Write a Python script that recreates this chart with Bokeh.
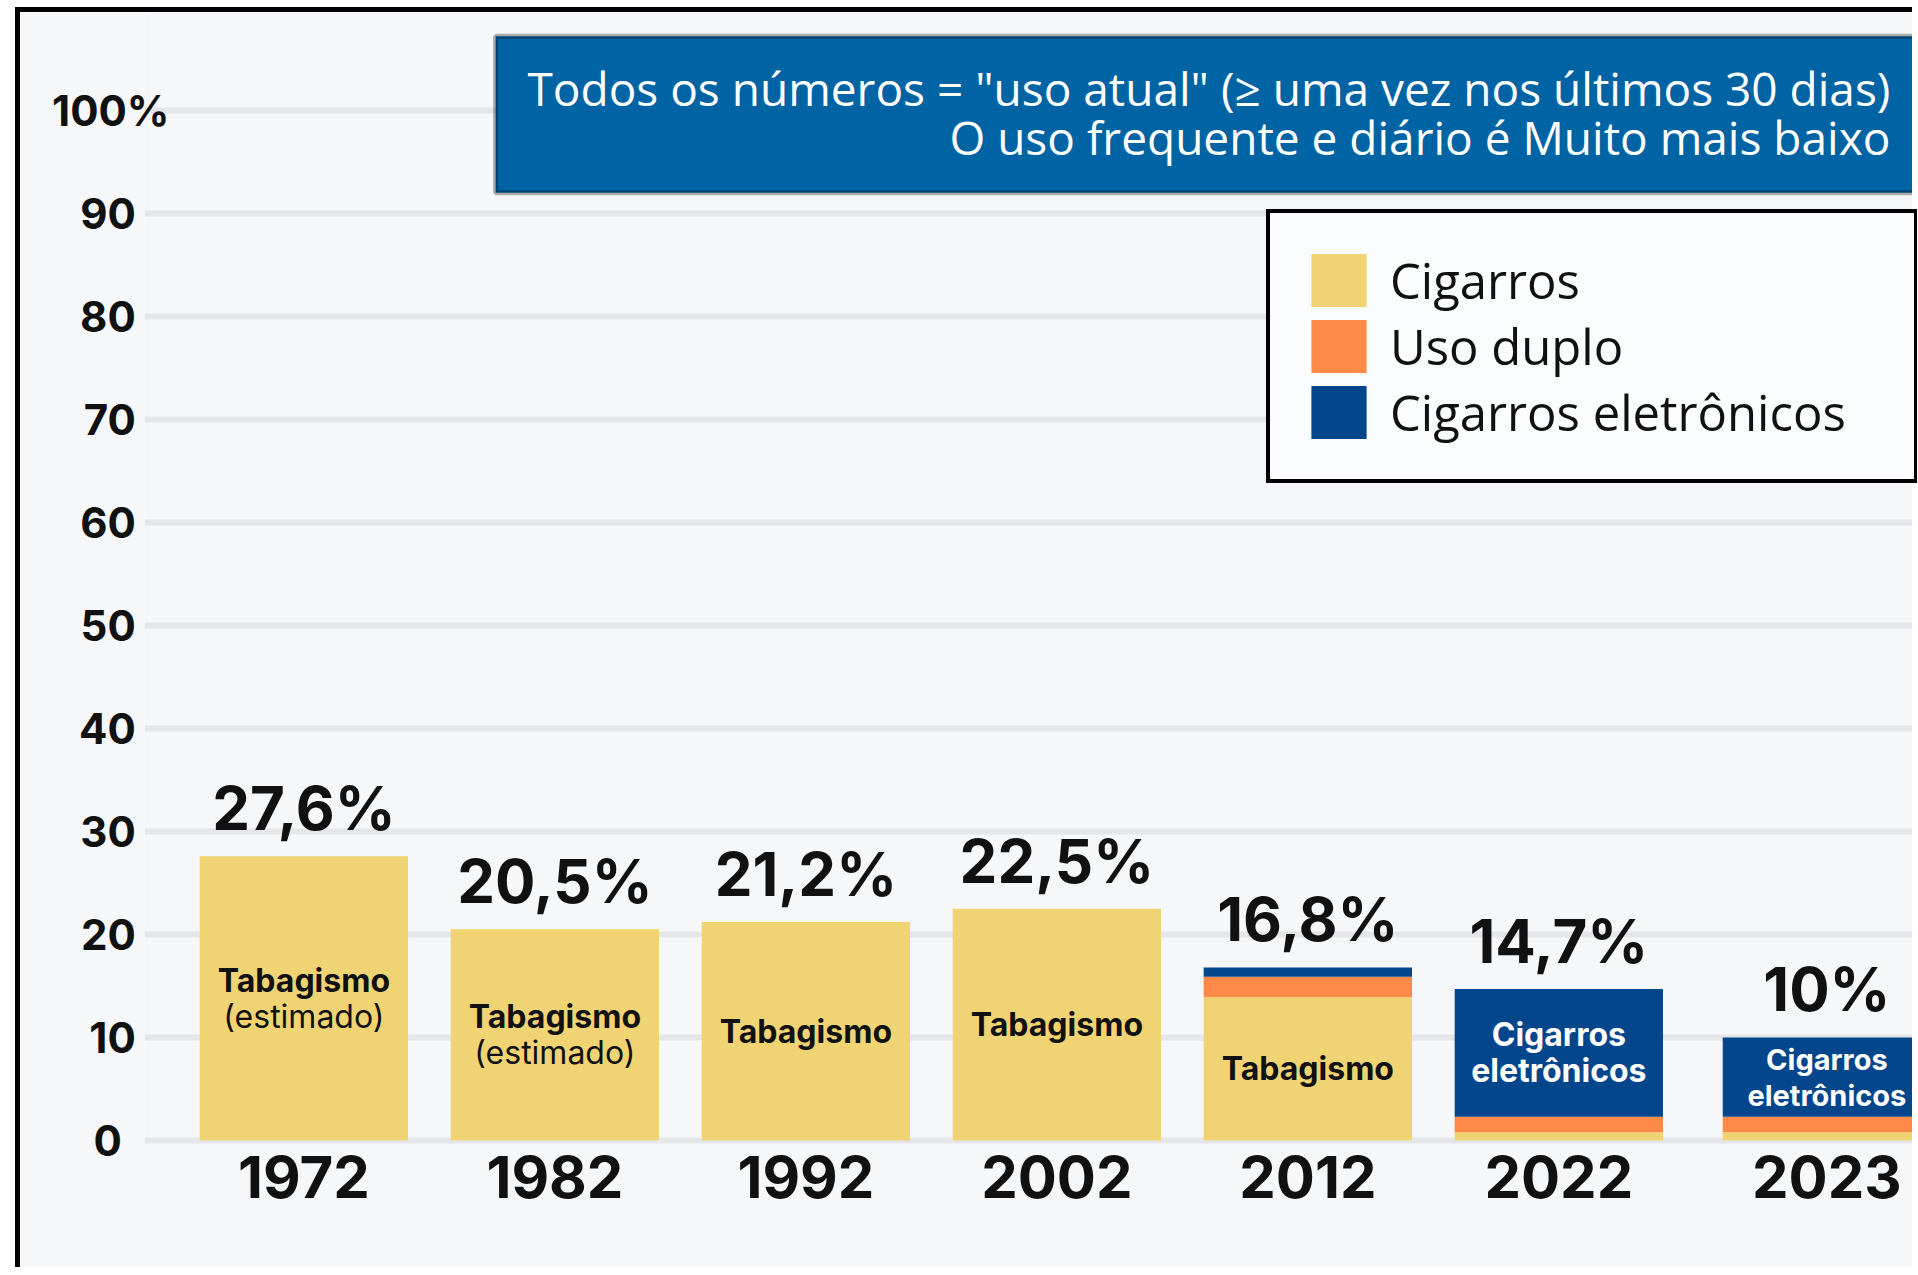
from bokeh.plotting import figure
from bokeh.models import ColumnDataSource, FixedTicker, BoxAnnotation, Label, Range1d
from bokeh.embed import file_html
from bokeh.resources import INLINE
from bokeh.core.properties import value

# ---------------- data ----------------
years = ["1972", "1982", "1992", "2002", "2012", "2022", "2023"]
cigarros = [27.6, 20.5, 21.2, 22.5, 13.9, 0.8, 0.8]
uso_duplo = [0.0, 0.0, 0.0, 0.0, 2.0, 1.5, 1.5]
eletronicos = [0.0, 0.0, 0.0, 0.0, 0.9, 12.4, 7.7]
valor_labels = ["27,6%", "20,5%", "21,2%", "22,5%", "16,8%", "14,7%", "10%"]
rotulo_linha1 = ["Tabagismo", "Tabagismo", "Tabagismo", "Tabagismo", "Tabagismo", "Cigarros", "Cigarros"]
rotulo_linha2 = ["(estimado)", "(estimado)", "", "", "", "eletrônicos", "eletrônicos"]
series_names = ["Cigarros", "Uso duplo", "Cigarros eletrônicos"]
y_ticks = [0, 10, 20, 30, 40, 50, 60, 70, 80, 90, 100]
y_tick_labels = ["0", "10", "20", "30", "40", "50", "60", "70", "80", "90", "100%"]
header_lines = ['Todos os números = "uso atual" (\u2265 uma vez nos últimos 30 dias)',
                'O uso frequente e diário é Muito mais baixo']

# ---------------- styles ----------------
colors = ["#F0D473", "#FF8A48", "#03468C"]
BG = "#f6f7f9"
BOLD_FONT = "Inter"
LIGHT_FONT = "Open Sans"

n = len(years)
x_pos = [i + (0.068 if i == n - 1 else 0.0) for i in range(n)]
totals = [c + d + e for c, d, e in zip(cigarros, uso_duplo, eletronicos)]

# label positions: centre of the dominant segment
mids, off1, off2, l1_col, l2_style, in_size = [], [], [], [], [], []
for i, (c, d, e, l2) in enumerate(zip(cigarros, uso_duplo, eletronicos, rotulo_linha2)):
    if e > c:
        mids.append(c + d + e / 2.0)
        l1_col.append("white")
        l2_style.append("bold")
    else:
        mids.append(c / 2.0)
        l1_col.append("#111111")
        l2_style.append("normal")
    if l2:
        off1.append(-18)
        off2.append(18)
    else:
        off1.append(0)
        off2.append(0)
    # the last bar sits at the right edge of the page: slightly smaller text
    in_size.append("29px" if i == n - 1 else "32px")

src = ColumnDataSource(dict(x=x_pos, cig=cigarros, dual=uso_duplo, ecig=eletronicos,
                            total=totals, vlabel=valor_labels, mid=mids,
                            l1=rotulo_linha1, l2=rotulo_linha2, off1=off1, off2=off2,
                            lcol=l1_col, l2style=l2_style, insize=in_size))

p = figure(width=1897, height=1260,
           x_range=Range1d(-0.635, 6.429), y_range=Range1d(-0.68, 109.5),
           output_backend="svg", toolbar_location=None,
           min_border_left=124, min_border_right=0, min_border_top=0, min_border_bottom=125)
# outer frame: black top and left edges
p.margin = (7, 0, 0, 15)
p.styles = {"border-left": "5px solid #000", "border-top": "5px solid #000"}
p.background_fill_color = BG
p.border_fill_color = BG
p.outline_line_color = None

p.xgrid.visible = False
p.ygrid.ticker = FixedTicker(ticks=y_ticks)
p.ygrid.grid_line_color = "#e5e6e9"
p.ygrid.grid_line_width = 6

renderers = p.vbar_stack(["cig", "dual", "ecig"], x="x", width=0.83, source=src,
                         fill_color=colors, line_color=None,
                         legend_label=series_names)

# value labels on top
p.text(x="x", y="total", text="vlabel", source=src, text_align="center",
       text_baseline="alphabetic", y_offset=-48, text_font=value(BOLD_FONT),
       text_font_style="bold", text_font_size="60px", text_color="#111111")
# inner labels
p.text(x="x", y="mid", text="l1", source=src, text_align="center", text_baseline="middle",
       y_offset="off1", text_font=value(BOLD_FONT), text_font_style="bold",
       text_font_size="insize", text_color="lcol")
p.text(x="x", y="mid", text="l2", source=src, text_align="center", text_baseline="middle",
       y_offset="off2", text_font=value(BOLD_FONT), text_font_style="l2style",
       text_font_size="insize", text_color="lcol")

# axes -- labels visually centred: pad shorter labels with figure/thin spaces
def _pad(lab):
    if len(lab) == 1:
        return lab + "\u2007\u2008\u2009"
    if len(lab) == 2:
        return lab + "\u2007\u2009"
    return lab

p.yaxis.ticker = FixedTicker(ticks=y_ticks)
p.yaxis.major_label_overrides = {t: _pad(lab) for t, lab in zip(y_ticks, y_tick_labels)}
p.yaxis.axis_line_color = None
p.yaxis.major_tick_line_color = None
p.yaxis.minor_tick_line_color = None
p.yaxis.major_label_text_font = BOLD_FONT
p.yaxis.major_label_text_font_style = "bold"
p.yaxis.major_label_text_font_size = "42px"
p.yaxis.major_label_text_color = "#111111"
p.yaxis.major_label_standoff = -31

p.xaxis.ticker = FixedTicker(ticks=x_pos)
p.xaxis.major_label_overrides = {x: y for x, y in zip(x_pos, years)}
p.xaxis.axis_line_color = None
p.xaxis.major_tick_line_color = None
p.xaxis.minor_tick_line_color = None
p.xaxis.major_label_text_font = BOLD_FONT
p.xaxis.major_label_text_font_style = "bold"
p.xaxis.major_label_text_font_size = "58px"
p.xaxis.major_label_text_color = "#111111"
p.xaxis.major_label_standoff = 2

# header box
p.add_layout(BoxAnnotation(left=0.764, right=6.417, top=107.2, bottom=92.0,
                           fill_color="#0063A3", fill_alpha=1.0,
                           line_color="black", line_width=5))
p.add_layout(Label(x=6.321, y=102.2, text=header_lines[0], text_align="right",
                   text_baseline="middle", text_color="white",
                   text_font=LIGHT_FONT, text_font_size="46px"))
p.add_layout(Label(x=6.321, y=97.4, text=header_lines[1], text_align="right",
                   text_baseline="middle", text_color="white",
                   text_font=LIGHT_FONT, text_font_size="46px"))

# legend
lg = p.legend[0]
lg.location = (1122, 664)
lg.padding = 34
lg.spacing = 0
lg.margin = 0
lg.glyph_width = 69
lg.glyph_height = 66
lg.label_standoff = 17
lg.label_width = 490
lg.border_line_color = "black"
lg.border_line_alpha = 1.0
lg.border_line_width = 4
lg.background_fill_color = "#fbfcfd"
lg.background_fill_alpha = 1.0
lg.label_text_font = LIGHT_FONT
lg.label_text_font_size = "49px"
lg.label_text_color = "#111111"

open("out.html", "w").write(file_html(p, INLINE))
